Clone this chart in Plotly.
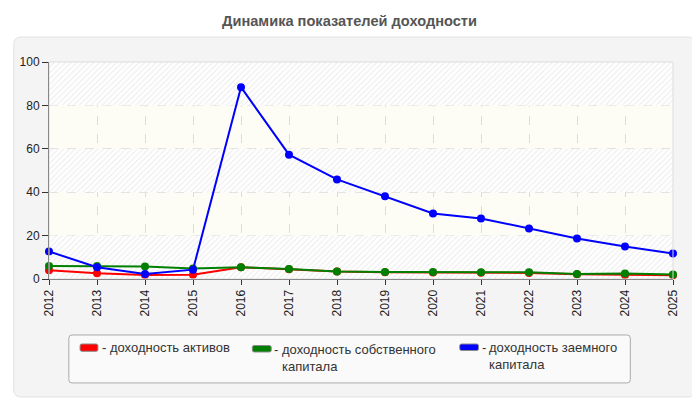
import plotly.graph_objects as go

years = [2012, 2013, 2014, 2015, 2016, 2017, 2018, 2019, 2020, 2021, 2022, 2023, 2024, 2025]

# доходность активов
assets = [4.0, 2.6, 1.8, 2.0, 5.4, 4.5, 3.4, 3.1, 3.0, 2.9, 2.8, 2.2, 1.8, 1.7]
# доходность собственного капитала
equity = [6.0, 6.0, 5.8, 4.8, 5.4, 4.6, 3.4, 3.2, 3.2, 3.1, 3.1, 2.3, 2.5, 2.1]
# доходность заемного капитала
debt = [12.7, 5.4, 2.3, 4.3, 88.4, 57.3, 45.9, 38.1, 30.2, 27.9, 23.3, 18.7, 15.0, 11.8]

series_colors = ['#ff0000', '#008000', '#0000ff']
y_ticks = [0, 20, 40, 60, 80, 100]
hatch_bands = [(0, 20), (40, 60), (80, 100)]


def rounded_path(x0, x1, y0, y1, rx, ry):
    # rounded rectangle as an SVG path in paper units
    return (
        f'M {x0 + rx} {y1} L {x1 - rx} {y1} Q {x1} {y1} {x1} {y1 - ry} '
        f'L {x1} {y0 + ry} Q {x1} {y0} {x1 - rx} {y0} '
        f'L {x0 + rx} {y0} Q {x0} {y0} {x0} {y0 + ry} '
        f'L {x0} {y1 - ry} Q {x0} {y1} {x0 + rx} {y1} Z'
    )


fig = go.Figure()

# hatched background bands
for lo, hi in hatch_bands:
    fig.add_trace(go.Scatter(
        x=[years[0], years[-1], years[-1], years[0]],
        y=[lo, lo, hi, hi],
        fill='toself',
        fillcolor='rgba(0,0,0,0)',
        fillpattern=dict(shape='/', fgcolor='#dedede', bgcolor='#ffffff', size=4, solidity=0.3),
        line=dict(width=0),
        mode='lines',
        hoverinfo='skip',
        showlegend=False
    ))

# data lines
for vals, color in zip([assets, equity, debt], series_colors):
    fig.add_trace(go.Scatter(
        x=years,
        y=vals,
        mode='lines+markers',
        line=dict(color=color, width=2),
        marker=dict(color=color, size=8),
        cliponaxis=False,
        showlegend=False
    ))

shapes = [
    # grey panel
    dict(type='path', path=rounded_path(-0.0565, 1.035, -0.5438, 1.1152, 0.012, 0.035),
         xref='paper', yref='paper', fillcolor='#f4f4f4',
         line=dict(color='#e2e2e2', width=1), layer='below'),
    # plot area background
    dict(type='rect', x0=0, x1=1, y0=0, y1=1, xref='paper', yref='paper',
         fillcolor='#fdfdf6', line=dict(width=0), layer='below'),
    # legend box
    dict(type='path', path=rounded_path(0.0318, 0.9316, -0.479, -0.258, 0.005, 0.015),
         xref='paper', yref='paper', fillcolor='#fafafa',
         line=dict(color='#aaaaaa', width=1), layer='below'),
    # light border of plot area
    dict(type='rect', x0=0, x1=1, y0=0, y1=1, xref='paper', yref='paper',
         line=dict(color='#dddddd', width=1), layer='above'),
]

# legend swatches
swatches = [
    (0.0498, 0.0784, -0.3332, -0.2995),
    (0.3259, 0.3561, -0.3364, -0.3065),
    (0.6582, 0.6884, -0.3295, -0.2995),
]
for (x0, x1, y0, y1), color in zip(swatches, series_colors):
    shapes.append(dict(type='path', path=rounded_path(x0, x1, y0, y1, 0.003, 0.008),
                       xref='paper', yref='paper', fillcolor=color,
                       line=dict(color='#8a8a8a', width=1), layer='above'))

legend_font = dict(family='Liberation Sans, Arial, sans-serif', size=13, color='#333333')
legend_texts = [
    (0.0827, -0.2767, '- доходность активов'),
    (0.3593, -0.288, '-'),
    (0.3715, -0.288, 'доходность собственного<br>капитала'),
    (0.692, -0.2788, '-'),
    (0.7043, -0.2788, 'доходность заемного<br>капитала'),
]
annotations = [
    dict(x=x, y=y, xref='paper', yref='paper', text=t, showarrow=False,
         xanchor='left', yanchor='top', align='left', font=legend_font, borderpad=0)
    for x, y, t in legend_texts
]

fig.update_layout(
    width=692,
    height=392,
    margin=dict(l=36, r=27, t=54, b=121),
    paper_bgcolor='#ffffff',
    plot_bgcolor='rgba(0,0,0,0)',
    font=dict(family='Liberation Sans, Arial, sans-serif', size=12, color='#333333'),
    title=dict(
        text='<b>Динамика показателей доходности</b>',
        x=0.4935,
        xanchor='center',
        y=0.9668,
        yanchor='middle',
        font=dict(size=14.6, color='#555555')
    ),
    shapes=shapes,
    annotations=annotations,
    showlegend=False
)

fig.update_xaxes(
    range=[years[0], years[-1]],
    tickmode='array',
    tickvals=years,
    ticktext=[str(y) for y in years],
    tickangle=-90,
    ticks='outside',
    ticklen=5,
    tickcolor='#333333',
    showline=True,
    linecolor='#333333',
    linewidth=1,
    showgrid=True,
    gridcolor='#dcdcdc',
    griddash='dash',
    gridwidth=1,
    zeroline=False,
    tickfont=dict(size=12, color='#222222')
)

fig.update_yaxes(
    range=[0, 100],
    tickvals=y_ticks,
    ticks='outside',
    ticklen=6,
    tickcolor='#333333',
    showline=True,
    linecolor='#333333',
    linewidth=1,
    showgrid=True,
    gridcolor='#dcdcdc',
    griddash='dash',
    gridwidth=1,
    zeroline=False,
    tickfont=dict(size=12, color='#222222')
)

fig.write_html('out.html')
